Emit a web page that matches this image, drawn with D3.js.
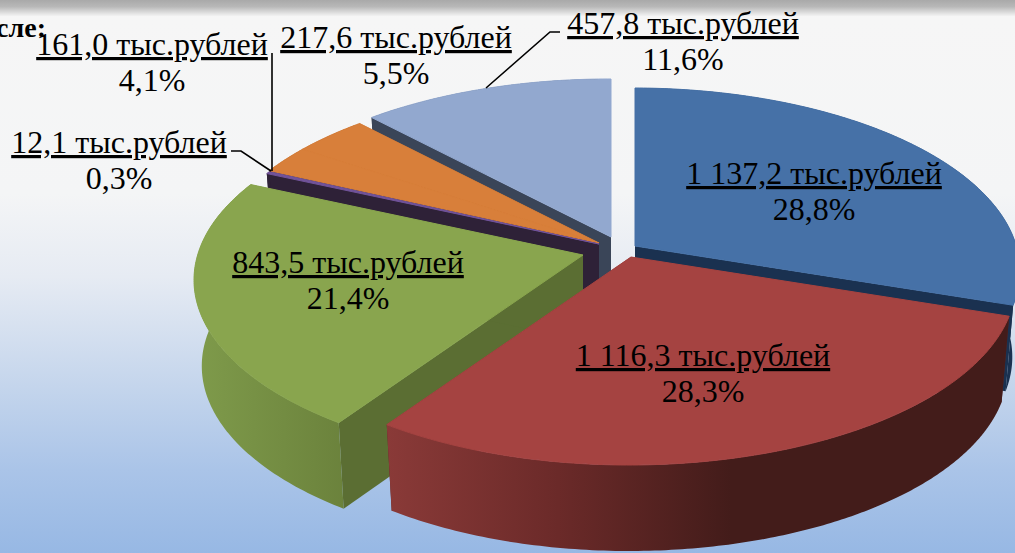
<!DOCTYPE html>
<html>
<head>
<meta charset="utf-8">
<script src="https://cdn.jsdelivr.net/npm/d3@7"></script>
<style>
  html, body { margin: 0; padding: 0; overflow: hidden; }
  text { font-family: "Liberation Serif", serif; fill: #000; }
  .amount { text-decoration: underline; }
</style>
</head>
<body>
<div id="vis"></div>
<script>
const amounts = [1137.2, 1116.3, 843.5, 12.1, 161.0, 217.6, 457.8]
const amountLabels = ['1 137,2 тыс.рублей', '1 116,3 тыс.рублей', '843,5 тыс.рублей', '12,1 тыс.рублей', '161,0 тыс.рублей', '217,6 тыс.рублей', '457,8 тыс.рублей']
const shareLabels = ['28,8%', '28,3%', '21,4%', '0,3%', '4,1%', '5,5%', '11,6%']
const topColors = ['#4671a7', '#a54341', '#89a54e', '#71539a', '#d87f3a', '#d87f3a', '#92a8cf']
const sideColors = ['#1a3150', '#5c2624', '#5b6e33', '#2e2137', '#7a4510', '#7a4510', '#3a4558']

// tip of every wedge on the page (wedges are pulled apart)
const tips = [[635, 246], [631, 257], [583, 255], [599, 244], [599, 243], [599, 243], [611, 237]]
const labelAt = [[814, 184], [703, 366], [348, 273], [119, 153], [152, 55], [396, 48], [683, 34]]
const leaders = [
  [[272, 53], [272, 171]],
  [[231, 151], [241, 151], [271, 171]],
  [[560, 32], [550, 32], [486, 88]]
]
const paintOrder = [6, 5, 4, 3, 0, 2, 1]

const width = 1015
const height = 553
const depth = 86
const bottomShrink = 0.98
// rim ellipse, relative to a wedge tip
const rim = { ex: -2, ey: 25, a: 387, b: 183 }
const flat = 0.37
const tilt = 0.085
// the original 3D view is not a clean projection, bend the angles a little (degrees)
const bend = d3.scaleLinear()
  .domain([0, 103.7, 205.6, 283, 318.2, 360])
  .range([0, -2.8, 0, 6.4, 0, 0])

const svg = d3.select('#vis').append('svg')
  .attr('width', width)
  .attr('height', height)
  .style('display', 'block')

const defs = svg.append('defs')

function gradient (id, horizontal, stops) {
  const g = defs.append('linearGradient')
    .attr('id', id)
    .attr('gradientUnits', 'userSpaceOnUse')
    .attr('x1', 0).attr('y1', 0)
    .attr('x2', horizontal ? width : 0).attr('y2', horizontal ? 0 : height)
  for (const [o, c] of stops) g.append('stop').attr('offset', o).attr('stop-color', c)
}

gradient('page', false, [
  [0, '#a9a9a9'], [0.012, '#b8b8b8'], [0.03, '#f6f6f6'], [0.35, '#f4f5f6'],
  [0.5, '#e6ebf3'], [0.7, '#c4d5ec'], [0.85, '#aac4e8'], [1, '#97b8e4']
])
gradient('greenWall', true, [[0.19, '#7f9b4b'], [0.34, '#6b823c']])
gradient('redWall', true, [[0.38, '#8a3a38'], [0.55, '#6b2a29'], [0.72, '#431c1a'], [1, '#431c1a']])

const wallFill = ['#1a3150', 'url(#redWall)', 'url(#greenWall)', '#2e2137', '#7a4510', '#7a4510', '#3a4558']

svg.append('rect')
  .attr('width', width)
  .attr('height', height)
  .attr('fill', 'url(#page)')

svg.append('text')
  .attr('x', 46).attr('y', 37)
  .attr('text-anchor', 'end')
  .attr('font-size', 28)
  .attr('font-weight', 'bold')
  .text('в том числе:')

svg.append('text')
  .attr('x', 8).attr('y', 572)
  .attr('font-size', 32)
  .text('договоры')

// ray from the tip at pie angle a, cut with the rim ellipse
function rimPoint (angle) {
  const a = angle + bend(angle * 180 / Math.PI) * Math.PI / 180
  const dx = Math.sin(a)
  const dy = -flat * Math.cos(a) + tilt * Math.sin(a)
  const p = dx * dx / (rim.a * rim.a) + dy * dy / (rim.b * rim.b)
  const q = dx * rim.ex / (rim.a * rim.a) + dy * rim.ey / (rim.b * rim.b)
  const r = rim.ex * rim.ex / (rim.a * rim.a) + rim.ey * rim.ey / (rim.b * rim.b) - 1
  const s = (q + Math.sqrt(q * q - p * r)) / p
  return [s * dx, s * dy]
}

const line = d3.line()
const arcs = d3.pie().sort(null)(amounts)

function lowered (tip, p) {
  return [tip[0] + p[0] * bottomShrink, tip[1] + p[1] + depth]
}

const slices = svg.selectAll('g.slice')
  .data(paintOrder.map(i => ({ i, arc: arcs[i], tip: tips[i] })))
  .enter()
  .append('g')
  .attr('class', 'slice')

slices.each(function (d) {
  const g = d3.select(this)
  const angles = d3.range(d.arc.startAngle, d.arc.endAngle, 0.01).concat(d.arc.endAngle)
  const rel = angles.map(rimPoint)
  const top = rel.map(p => [d.tip[0] + p[0], d.tip[1] + p[1]])
  const bottom = rel.map(p => lowered(d.tip, p))
  const tipLow = [d.tip[0], d.tip[1] + depth]
  const last = top.length - 1

  // two cut faces, none between wedges of one colour
  if (topColors[d.i] !== topColors[d.i - 1]) {
    g.append('path')
      .attr('d', line([d.tip, top[0], bottom[0], tipLow]) + 'Z')
      .attr('fill', sideColors[d.i])
  }
  if (topColors[d.i] !== topColors[d.i + 1]) {
    g.append('path')
      .attr('d', line([d.tip, top[last], bottom[last], tipLow]) + 'Z')
      .attr('fill', sideColors[d.i])
  }
  // outer wall
  g.append('path')
    .attr('d', line(top.concat(bottom.slice().reverse())) + 'Z')
    .attr('fill', wallFill[d.i])
  // top, the stroke hides the seam between the two orange wedges
  g.append('path')
    .attr('d', line([d.tip].concat(top)) + 'Z')
    .attr('fill', topColors[d.i])
    .attr('stroke', topColors[d.i])
    .attr('stroke-width', 1)
})

svg.selectAll('path.leader')
  .data(leaders)
  .enter()
  .append('path')
  .attr('class', 'leader')
  .attr('d', d => line(d))
  .attr('fill', 'none')
  .attr('stroke', '#000')
  .attr('stroke-width', 1.6)

const labels = svg.selectAll('g.label')
  .data(amountLabels)
  .enter()
  .append('g')
  .attr('class', 'label')
  .attr('transform', (d, i) => `translate(${labelAt[i]})`)
  .attr('text-anchor', 'middle')
  .attr('font-size', 32)

labels.append('text').attr('class', 'amount').text(d => d)
labels.append('text').attr('y', 36).text((d, i) => shareLabels[i])
</script>
</body>
</html>
